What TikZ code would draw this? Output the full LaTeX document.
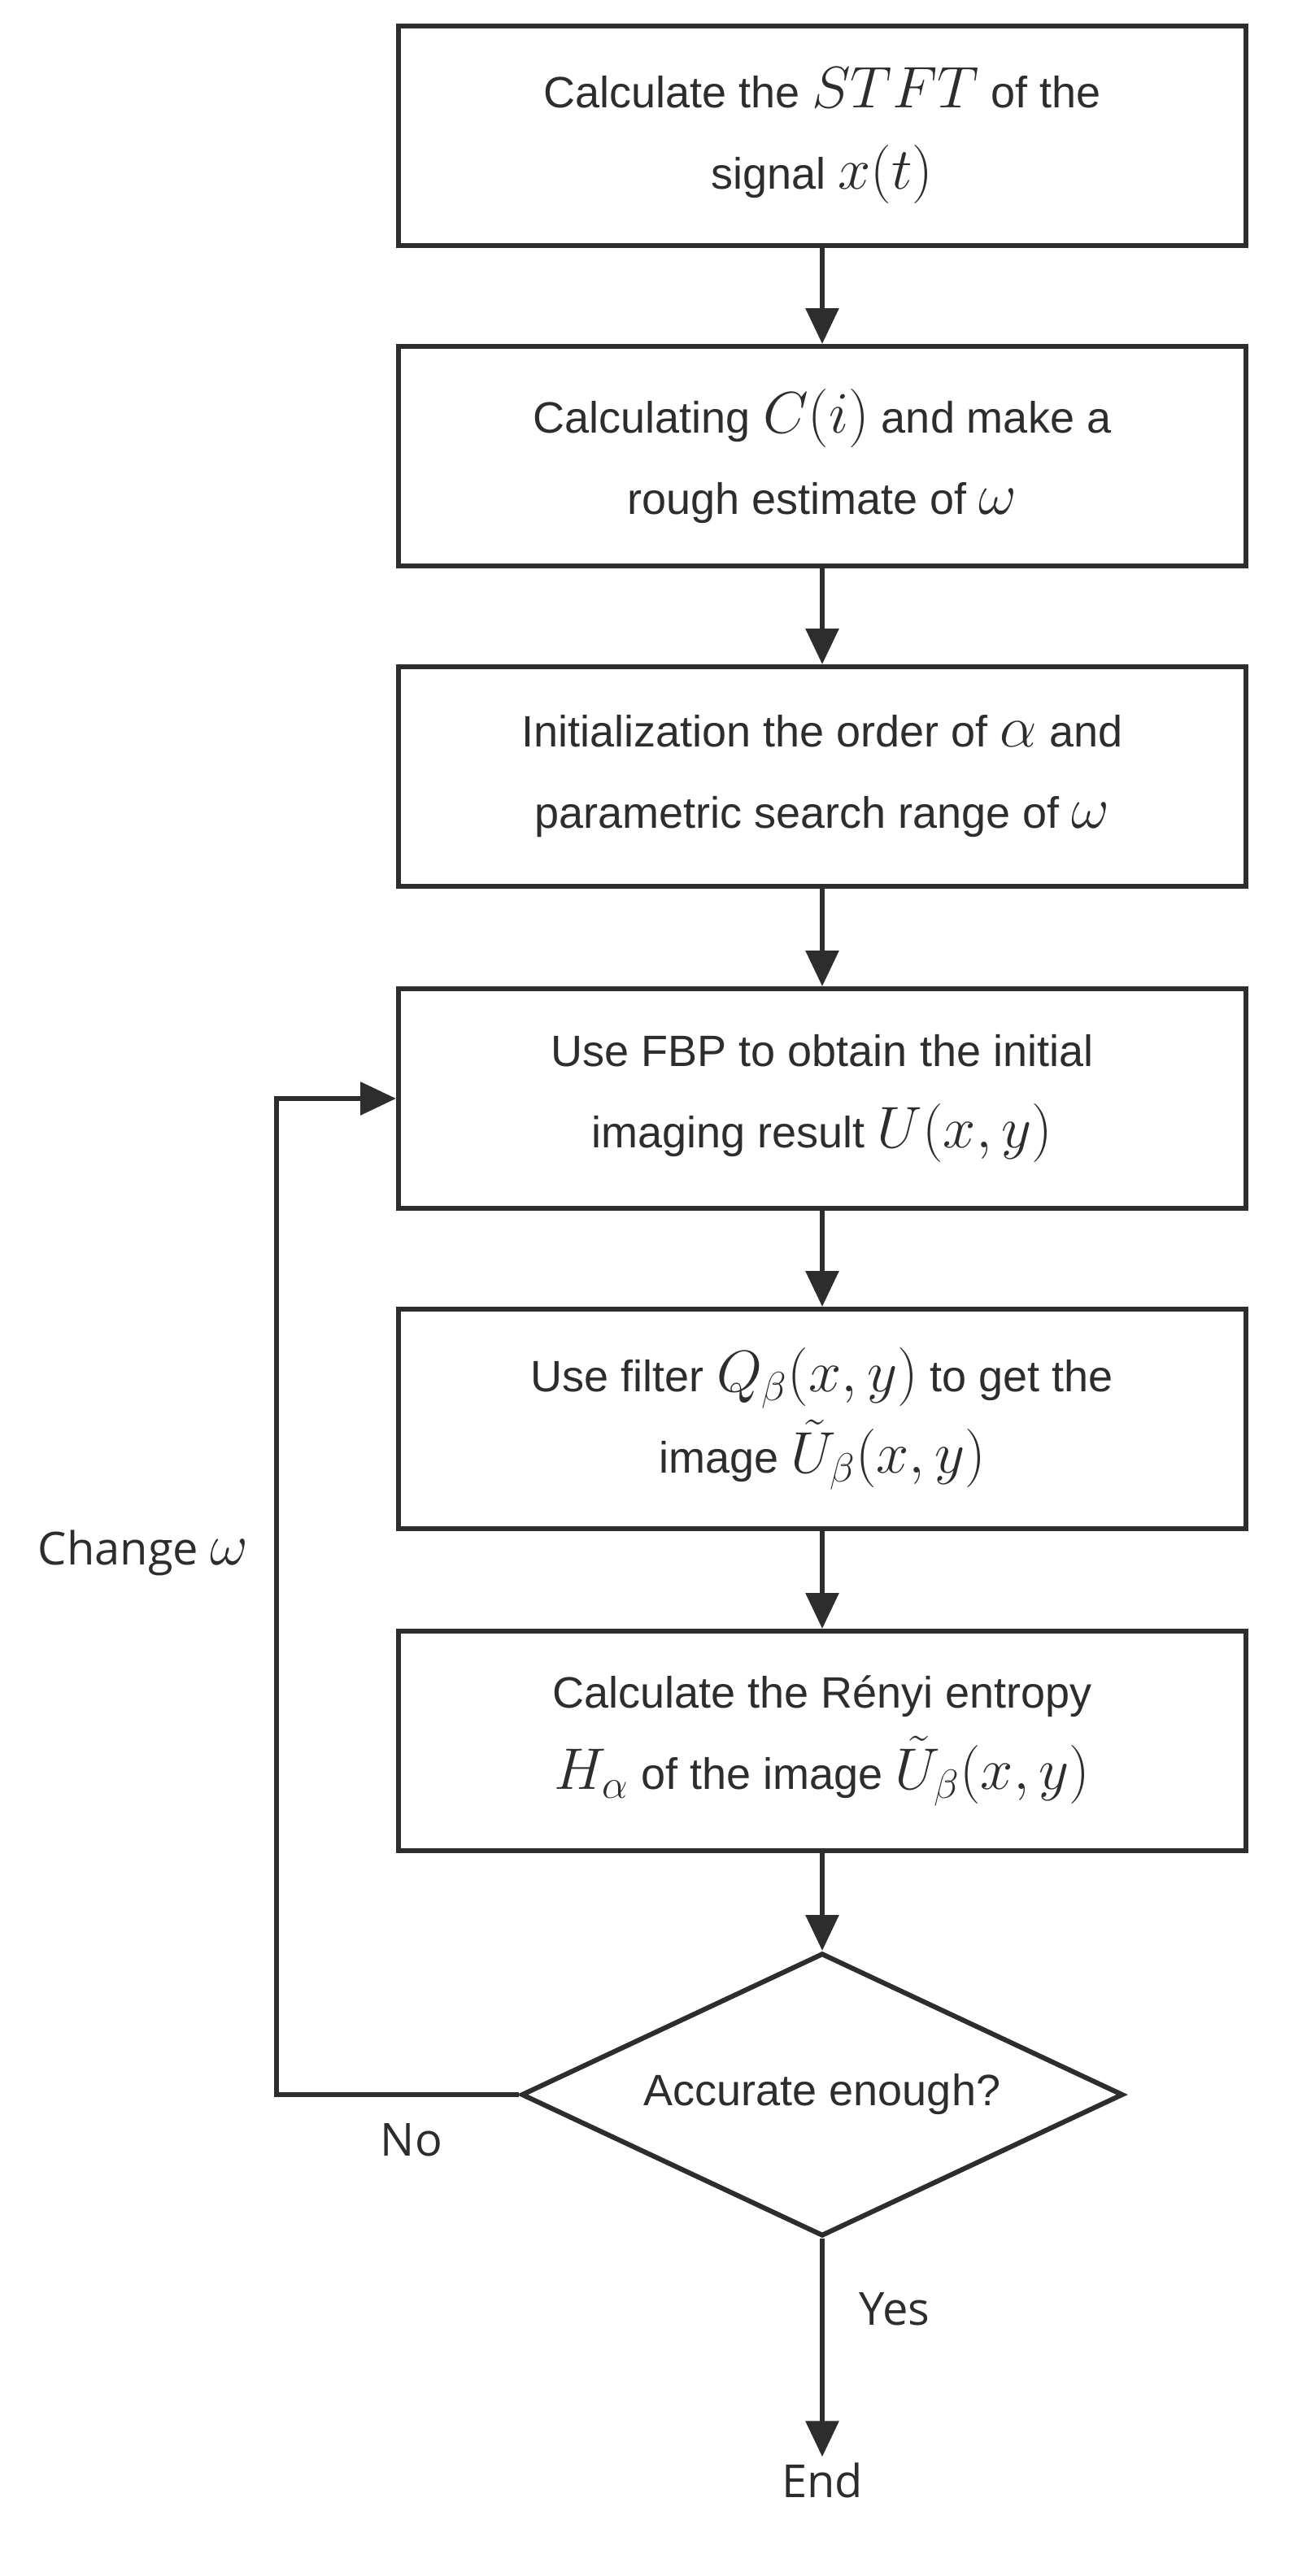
\documentclass[tikz,border=0pt]{standalone}
\usepackage{amsmath}
\usepackage{graphicx}
\usepackage{fontspec}
\setmainfont{Liberation Sans}
\newfontfamily\labfont{Open Sans}
\usetikzlibrary{shapes.geometric,arrows.meta}
\definecolor{ink}{RGB}{45,45,45}
\newcommand{\mth}[1]{\scalebox{1.45}{$#1$}}
\begin{document}
\begin{tikzpicture}[x=1pt,y=-1pt,
  every node/.style={font=\fontsize{27}{50}\selectfont, text=ink},
  box/.style={draw=ink, line width=3pt, minimum width=521pt, minimum height=135pt,
    align=center, inner sep=0pt},
  dec/.style={draw=ink, line width=3pt, diamond, minimum width=370pt, minimum height=174pt,
    inner sep=0pt, aspect=2.13},
  lab/.style={font=\labfont\fontsize{28}{34}\selectfont},
  arr/.style={draw=ink, line width=3pt, -{Triangle[length=22pt,width=20pt]}}]
\useasboundingbox (0,0) rectangle (805.5,1584);
\node[box] (b1) at (505.5,83.5) {Calculate the \mth{STFT} of the\\signal \mth{x(t)}};
\node[box] (b2) at (505.5,280.5) {Calculating \mth{C(i)} and make a\\rough estimate of \mth{\omega}};
\node[box] (b3) at (505.5,477.5) {Initialization the order of \mth{\alpha} and\\parametric search range of \mth{\omega}};
\node[box] (b4) at (505.5,675.5) {Use FBP to obtain the initial\\imaging result \mth{U(x,y)}};
\node[box] (b5) at (505.5,872.5) {Use filter \mth{Q_\beta(x,y)} to get the\\image \mth{\tilde{U}_\beta(x,y)}};
\node[box] (b6) at (505.5,1070.5) {Calculate the Rényi entropy\\\mth{H_\alpha} of the image \mth{\tilde{U}_\beta(x,y)}};
\node[dec] (d) at (505.5,1288) {};
\node[font=\fontsize{27}{32}\selectfont] at (d.center) {Accurate enough?};
\node[lab] (end) at (505.5,1525) {End};
\coordinate (c1) at (170,1288);
\coordinate (c2) at (170,675.5);
\draw[arr] (b1) -- (b2);
\draw[arr] (b2) -- (b3);
\draw[arr] (b3) -- (b4);
\draw[arr] (b4) -- (b5);
\draw[arr] (b5) -- (b6);
\draw[arr] (b6) -- (d);
\draw[arr] (d.south) -- (end.north);
\draw[arr] (d.west) -- (c1) -- (c2) -- (b4.west);
\node[lab] at (88,955) {Change \mth{\omega}};
\node[lab] at (253,1316) {No};
\node[lab] at (550,1420) {Yes};
\end{tikzpicture}
\end{document}
